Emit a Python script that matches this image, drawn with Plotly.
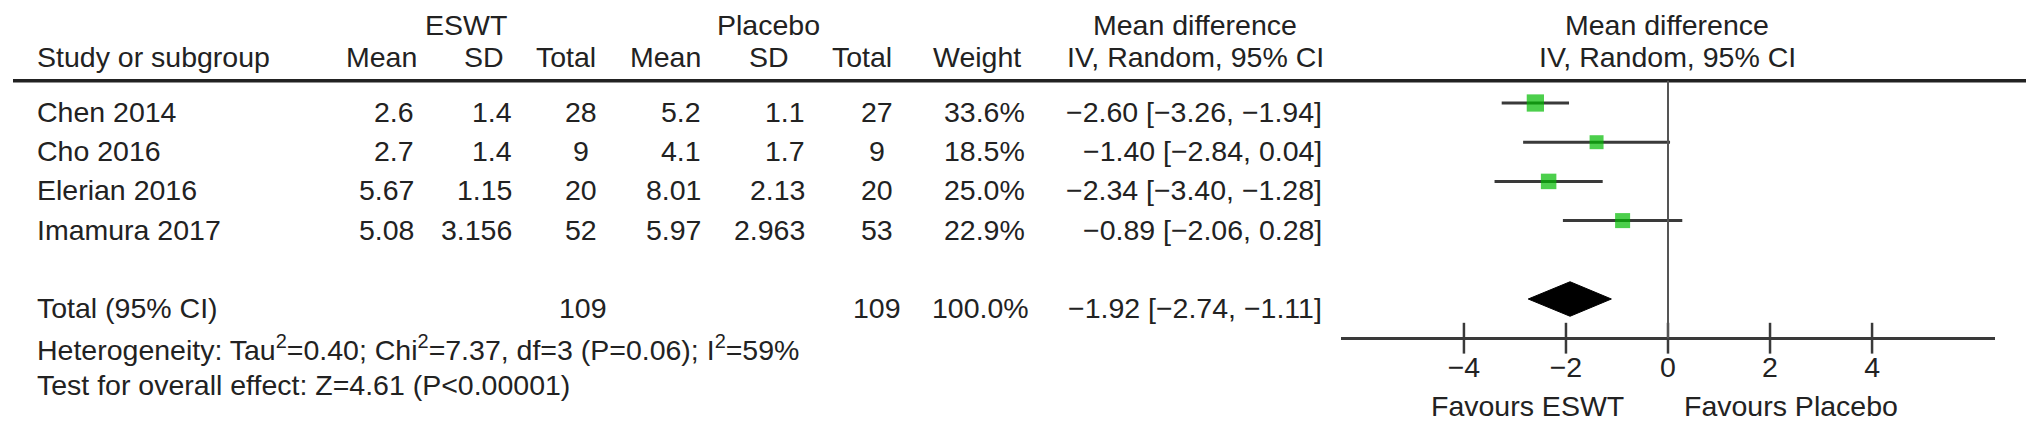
import plotly.graph_objects as go

# ---------------- data ----------------
studies = ["Chen 2014", "Cho 2016", "Elerian 2016", "Imamura 2017"]
eswt_mean = [2.6, 2.7, 5.67, 5.08]
eswt_sd = [1.4, 1.4, 1.15, 3.156]
eswt_n = [28, 9, 20, 52]
plac_mean = [5.2, 4.1, 8.01, 5.97]
plac_sd = [1.1, 1.7, 2.13, 2.963]
plac_n = [27, 9, 20, 53]
weights = [33.6, 18.5, 25.0, 22.9]
md = [-2.60, -1.40, -2.34, -0.89]
ci_lo = [-3.26, -2.84, -3.40, -2.06]
ci_hi = [-1.94, 0.04, -1.28, 0.28]

total_label = "Total (95% CI)"
total_n_eswt = 109
total_n_plac = 109
total_weight = 100.0
total_md = -1.92
total_lo = -2.74
total_hi = -1.11

heterogeneity = "Heterogeneity: Tau<sup>2</sup>=0.40; Chi<sup>2</sup>=7.37, df=3 (P=0.06); I<sup>2</sup>=59%"
overall = "Test for overall effect: Z=4.61 (P<0.00001)"
x_ticks = [-4, -2, 0, 2, 4]
favours_left = "Favours ESWT"
favours_right = "Favours Placebo"

# ---------------- layout constants ----------------
W, H = 2032, 430
FONT = "Liberation Sans, Arial, Helvetica, sans-serif"
FS = 28.5
TXT = "#222222"
LINE = "#3a3a3a"
GREEN = "#00bb00"

row_y = list(range(len(studies)))
total_y = len(studies) + 1
axis_y = total_y + 1
TSHIFT = 0.23          # text sits slightly below marker centre
HDR_LINE_Y = -0.57
HDR1_Y = -1.99
HDR2_Y = -1.17
LEFT = 35


def minus(s):
    return s.replace("-", "\u2212")


def fmt_ci(m, lo, hi):
    return minus(f"{m:.2f} [{lo:.2f}, {hi:.2f}]")


anns = []


def ann(text, xpx, y, anchor="right"):
    anns.append(dict(text=text, x=xpx / W, xref="paper", y=y, yref="y",
                     xanchor=anchor, yanchor="middle", showarrow=False,
                     font=dict(family=FONT, size=FS, color=TXT)))


# headers
ann("ESWT", 466, HDR1_Y, "center")
ann("Placebo", 768, HDR1_Y, "center")
ann("Mean difference", 1195, HDR1_Y, "center")
ann("Mean difference", 1667, HDR1_Y, "center")
ann("Study or subgroup", LEFT, HDR2_Y, "left")
ann("Mean", 419, HDR2_Y)
ann("SD", 506, HDR2_Y)
ann("Total", 598, HDR2_Y)
ann("Mean", 703, HDR2_Y)
ann("SD", 791, HDR2_Y)
ann("Total", 894, HDR2_Y)
ann("Weight", 1023, HDR2_Y)
ann("IV, Random, 95% CI", 1195, HDR2_Y, "center")
ann("IV, Random, 95% CI", 1667, HDR2_Y, "center")

# study rows
for i, y in enumerate(row_y):
    yt = y + TSHIFT
    ann(studies[i], LEFT, yt, "left")
    ann(str(eswt_mean[i]), 416, yt)
    ann(str(eswt_sd[i]), 514, yt)
    ann(str(eswt_n[i]), 581, yt, "center")
    ann(str(plac_mean[i]), 703, yt)
    ann(str(plac_sd[i]), 807, yt)
    ann(str(plac_n[i]), 877, yt, "center")
    ann(f"{weights[i]:.1f}%", 1027, yt)
    ann(fmt_ci(md[i], ci_lo[i], ci_hi[i]), 1324, yt)

# total row
yt = total_y + TSHIFT
ann(total_label, LEFT, yt, "left")
ann(str(total_n_eswt), 583, yt, "center")
ann(str(total_n_plac), 877, yt, "center")
ann(f"{total_weight:.1f}%", 1031, yt)
ann(fmt_ci(total_md, total_lo, total_hi), 1324, yt)

ann(heterogeneity, LEFT, 6.24, "left")
ann(overall, LEFT, 7.20, "left")
ann(favours_left, 1626, 7.74, "right")
ann(favours_right, 1682, 7.74, "left")

fig = go.Figure()

# confidence interval lines + squares
fig.add_trace(go.Scatter(
    x=md, y=row_y, mode="markers",
    error_x=dict(type="data", symmetric=False,
                 array=[h - m for h, m in zip(ci_hi, md)],
                 arrayminus=[m - l for m, l in zip(md, ci_lo)],
                 color=LINE, thickness=3, width=0),
    marker=dict(symbol="square", color=GREEN,
                size=[2.2 * w ** 0.5 + 4.5 for w in weights],
                line=dict(width=0)),
    hoverinfo="skip", showlegend=False))

# pooled diamond
DH = 0.44
fig.add_trace(go.Scatter(
    x=[total_lo, total_md, total_hi, total_md, total_lo],
    y=[total_y, total_y - DH, total_y, total_y + DH, total_y],
    mode="lines", fill="toself", fillcolor="black",
    line=dict(color="black", width=1),
    hoverinfo="skip", showlegend=False))

# tick marks crossing the axis line
fig.add_trace(go.Scatter(
    x=x_ticks, y=[axis_y] * len(x_ticks), mode="markers",
    marker=dict(symbol="line-ns", size=22, color=LINE,
                line=dict(width=2.5, color=LINE)),
    hoverinfo="skip", showlegend=False))

shapes = [
    # header rule
    dict(type="line", xref="paper", yref="y", x0=13 / W, x1=2026 / W,
         y0=HDR_LINE_Y, y1=HDR_LINE_Y, line=dict(color="#222222", width=3.5)),
    # line of no effect
    dict(type="line", xref="x", yref="y", x0=0, x1=0,
         y0=HDR_LINE_Y, y1=axis_y, line=dict(color="#555555", width=2)),
]

px_per_row = 39.2
top = -(103 / px_per_row)
bottom = top + H / px_per_row

fig.update_layout(
    width=W, height=H,
    margin=dict(l=0, r=0, t=0, b=0, autoexpand=False),
    paper_bgcolor="white", plot_bgcolor="white",
    annotations=anns, shapes=shapes,
    xaxis=dict(domain=[1341 / W, 1995 / W], range=[-6.41, 6.41],
               anchor="free", position=1 - (axis_y - top) * px_per_row / H,
               showline=True, linecolor=LINE, linewidth=3,
               ticks="outside", ticklen=3, tickwidth=2.5, tickcolor=LINE,
               tickvals=x_ticks, showgrid=False, zeroline=False,
               tickfont=dict(family=FONT, size=FS, color=TXT)),
    yaxis=dict(domain=[0, 1], range=[bottom, top], visible=False,
               showgrid=False, zeroline=False),
    showlegend=False,
)

fig.write_html("out.html",
               config={"displayModeBar": False, "staticPlot": True},
               post_script="document.body.style.margin='0';"
                           "document.body.style.overflow='hidden';")
